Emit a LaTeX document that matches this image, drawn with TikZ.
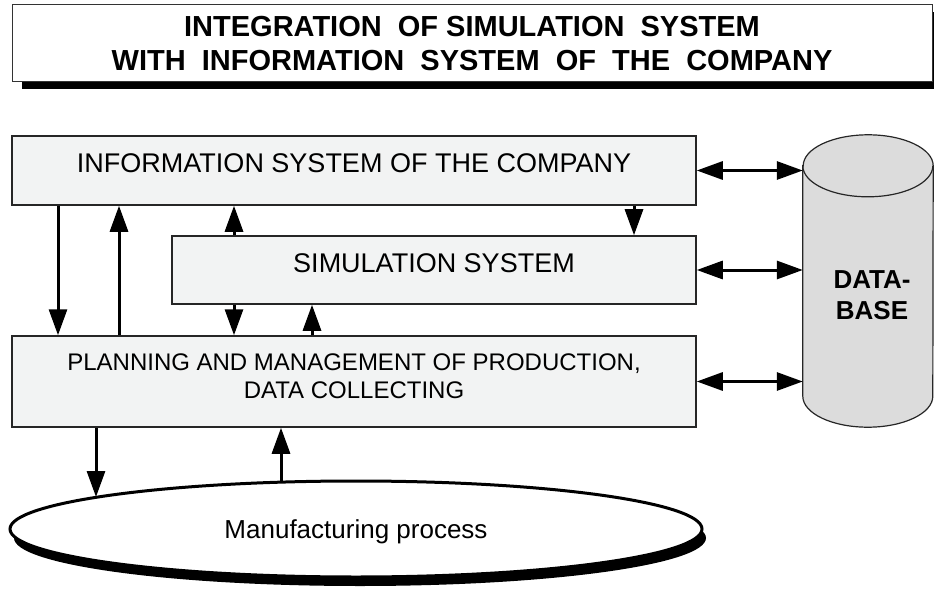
\documentclass[tikz,border=0pt]{standalone}
\usepackage{fontspec}
\setmainfont{Liberation Sans}
\usetikzlibrary{arrows.meta,shadows,shapes.geometric,backgrounds}

\definecolor{boxfill}{HTML}{F2F3F3}
\definecolor{dbfill}{HTML}{DCDCDC}

\begin{document}
\begin{tikzpicture}[x=1pt,y=-1pt]
            \tikzstyle{block}=[rectangle, draw=black!85, line width=1.5pt, fill=boxfill, inner sep=0pt,
                               align=center, text height=19.5pt, text depth=15pt,
                               font=\fontsize{27}{28}\selectfont]
            \tikzstyle{flow}=[line width=3pt, -{Triangle[length=26pt,width=18pt]}]
            \tikzstyle{both}=[line width=3pt, {Triangle[length=26pt,width=18pt]}-{Triangle[length=26pt,width=18pt]}]
            \useasboundingbox (0,0) rectangle (934,596);

            \node[rectangle, draw=black!80, line width=1pt, fill=white, minimum width=920pt, minimum height=77pt,
                  align=center, font=\bfseries\fontsize{29}{34}\selectfont,
                  drop shadow={shadow xshift=10pt, shadow yshift=-7pt, fill=black, opacity=1}]
                  (title) at (472,43.5) {INTEGRATION\ \ OF SIMULATION\ \ SYSTEM\\WITH\ \ INFORMATION\ \ SYSTEM\ \ OF\ \ THE\ \ COMPANY};

            \node[block, minimum width=684pt, minimum height=69pt] (info) at (354,170.5) {INFORMATION SYSTEM OF THE COMPANY};
            \node[block, minimum width=524pt, minimum height=68pt] (sim)  at (434,270)   {SIMULATION SYSTEM};
            \node[block, minimum width=684pt, minimum height=91pt, text height=45.5pt, text depth=12.5pt,
                  font=\fontsize{24}{28}\selectfont]
                  (plan) at (354,381.5) {PLANNING AND MANAGEMENT OF PRODUCTION,\\DATA COLLECTING};

            \node[ellipse, draw, line width=3pt, fill=white, minimum width=692pt, minimum height=96pt, inner sep=0pt,
                  text height=19pt, text depth=0pt, font=\fontsize{26}{28}\selectfont,
                  drop shadow={shadow xshift=4pt, shadow yshift=-9pt, fill=black, opacity=1}]
                  (proc) at (356,529) {Manufacturing process};

            % the data base: outline node, cylinder drawn behind it
            \node[minimum width=130pt, minimum height=292pt, inner sep=0pt] (db) at (868,281) {};
            \node[align=center, inner sep=0pt, font=\bfseries\fontsize{26}{31}\selectfont] (dbtext) at (872,295) {DATA-\\BASE};
            \begin{scope}[on background layer]
                \draw[line width=1.2pt, draw=black!85, fill=dbfill]
                    ([yshift=-31pt]db.north west) -- ([yshift=31pt]db.south west)
                    arc[start angle=180, end angle=360, x radius=65pt, y radius=31pt]
                    -- ([yshift=-31pt]db.north east)
                    arc[start angle=0, end angle=180, x radius=65pt, y radius=31pt] -- cycle;
                \draw[line width=1.2pt, draw=black!85] ([yshift=-31pt]db.north west)
                    arc[start angle=180, end angle=360, x radius=65pt, y radius=31pt];
            \end{scope}

            % x positions of the vertical arrows
            \coordinate (xa) at (58,0);
            \coordinate (xb) at (119,0);
            \coordinate (xc) at (234,0);
            \coordinate (xd) at (312,0);
            \coordinate (xe) at (634,0);
            \coordinate (m1) at (96,497);
            \coordinate (m2) at (281,481);

            \path   (info.south -| xa)  edge[flow]  (plan.north -| xa);
            \path   (plan.north -| xb)  edge[flow]  (info.south -| xb);
            \path   (sim.north -| xc)   edge[flow]  (info.south -| xc);
            \path   (sim.south -| xc)   edge[flow]  (plan.north -| xc);
            \path   (plan.north -| xd)  edge[flow]  (sim.south -| xd);
            \path   (info.south -| xe)  edge[flow]  (sim.north -| xe);

            \path   (plan.south -| m1)  edge[flow]  (m1);
            \path   (m2)                edge[flow]  (plan.south -| m2);

            \path   (info.east)         edge[both]  (info.east -| db.west);
            \path   (sim.east)          edge[both]  (sim.east -| db.west);
            \path   (plan.east)         edge[both]  (plan.east -| db.west);
\end{tikzpicture}
\end{document}
